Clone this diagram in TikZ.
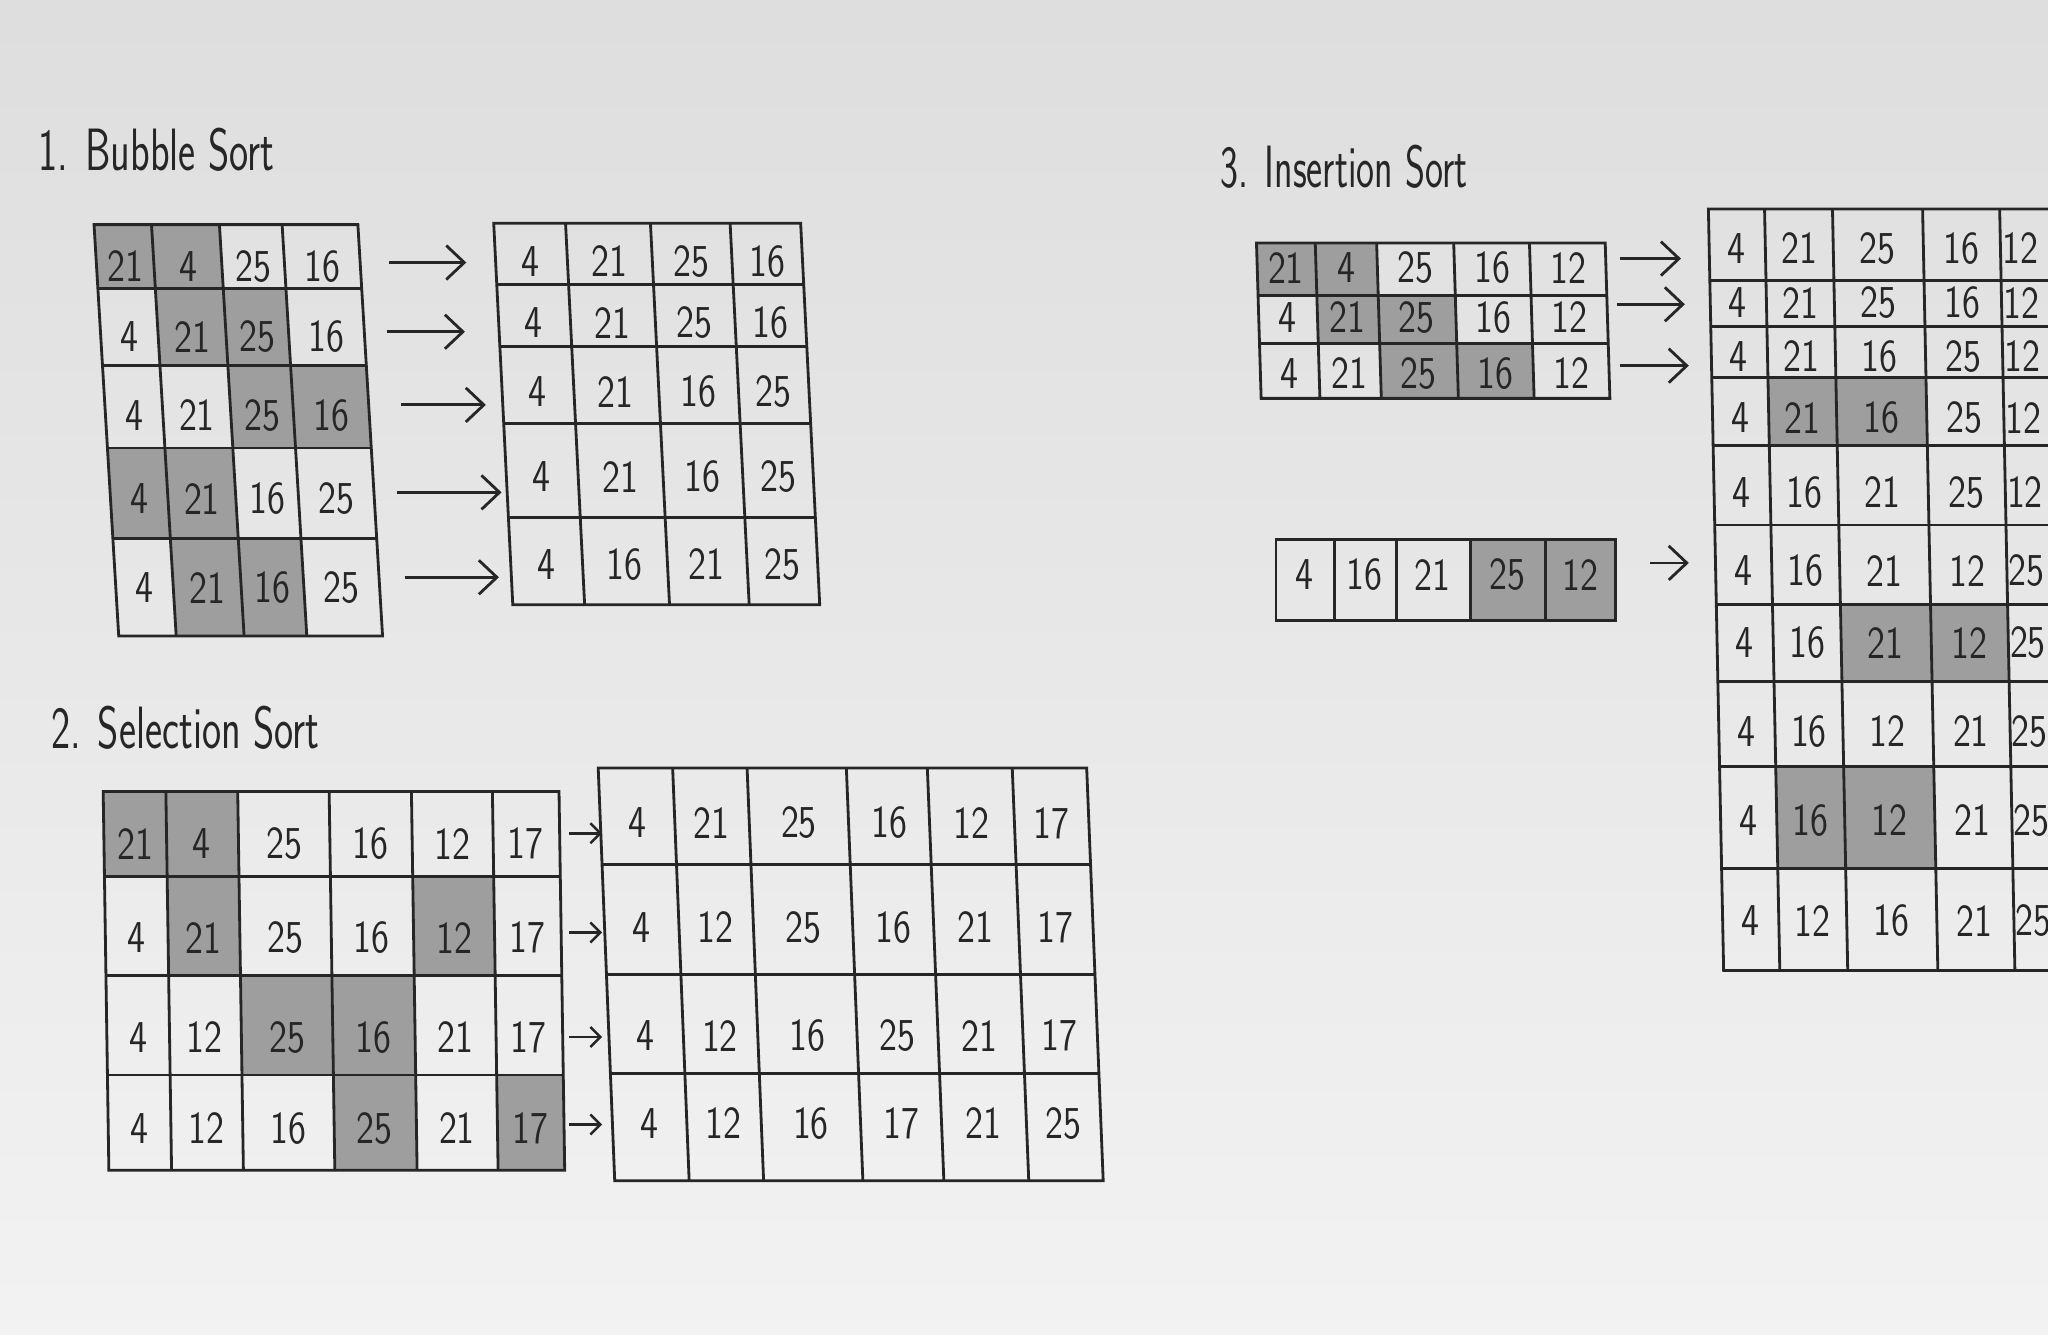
\documentclass[tikz,border=0pt]{standalone}
\usetikzlibrary{arrows.meta}
\begin{document}
\begin{tikzpicture}[x=0.01306cm, y=-0.01306cm,
    >={Straight Barb[length=1.8mm,width=3.4mm]},
    pen/.style={draw=ink, line width=0.8pt},
    flecha/.style={draw=ink, line width=0.8pt, ->},
    flechita/.style={draw=ink, line width=0.7pt, -{Straight Barb[length=1mm,width=2mm]}},
    sombra/.style={fill=lapiz},
    num/.style={text=ink, inner sep=0pt, font=\sffamily\fontsize{13}{13}\selectfont},
    titulo/.style={text=ink, inner sep=0pt, font=\sffamily\fontsize{17}{17}\selectfont}]

    % Colores del papel y del lapiz
    \colorlet{ink}{black!85}
    \colorlet{lapiz}{black!38}
    \colorlet{papel1}{black!13}
    \colorlet{papel2}{black!5}

    % 1. Hoja de papel
    \clip (0,0) rectangle (1568,1022);
    \shade[top color=papel1, bottom color=papel2] (0,0) rectangle (1568,1022);

    % 2. Titulos
    \node[titulo] (t1) at (120,115) {\scalebox{0.68}[1]{1. Bubble Sort}};
    \node[titulo] (t2) at (142,557) {\scalebox{0.68}[1]{2. Selection Sort}};
    \node[titulo] (t3) at (1029,128) {\scalebox{0.64}[1]{3. Insertion Sort}};

    % 3. Bubble Sort: tabla izquierda
    \begin{scope}[shift={(72,172)}, xslant=-0.06]
        \foreach \xa/\ya/\xb/\yb in {0/0/96/49, 44/49/144/108, 96/108/202/171, 0/171/96/240, 44/240/144/315}
            \fill[sombra] (\xa,\ya) rectangle (\xb,\yb);
        \draw[pen] (0,0) rectangle (202,315);
        \foreach \x in {44,96,144} \draw[pen] (\x,0) -- (\x,315);
        \foreach \y in {49,108,171,240} \draw[pen] (0,\y) -- (202,\y);
        \foreach \y/\fila [count=\r] in {32/{21,4,25,16}, 86/{4,21,25,16}, 146/{4,21,25,16}, 210/{4,21,16,25}, 278/{4,21,16,25}}
            \foreach \v [count=\c] in \fila {
                \pgfmathsetmacro\xc{{22,70,120,173}[\c-1]}
                \node[num] (bi-\r-\c) at (\xc,\y) {\scalebox{0.8}[1]{\v}};
            }
    \end{scope}

    % Bubble Sort: tabla derecha
    \begin{scope}[shift={(378,171)}, xslant=-0.05]
        \draw[pen] (0,0) rectangle (235,292);
        \foreach \x in {55,120,181} \draw[pen] (\x,0) -- (\x,292);
        \foreach \y in {47,94,153,225} \draw[pen] (0,\y) -- (235,\y);
        \foreach \y/\fila [count=\r] in {29/{4,21,25,16}, 76/{4,21,25,16}, 129/{4,21,16,25}, 194/{4,21,16,25}, 261/{4,16,21,25}}
            \foreach \v [count=\c] in \fila {
                \pgfmathsetmacro\xc{{27,87,150,208}[\c-1]}
                \node[num] (bd-\r-\c) at (\xc,\y) {\scalebox{0.8}[1]{\v}};
            }
    \end{scope}

    % Flechas Bubble Sort
    \foreach \y/\xa/\xb [count=\i] in {201/298/357, 254/296/356, 310/307/372, 377/304/384, 442/310/382} {
        \coordinate (ba-\i) at (\xa,\y);
        \coordinate (bb-\i) at (\xb,\y);
        \draw[flecha] (ba-\i) -- (bb-\i);
    }

    % 4. Selection Sort: tabla izquierda
    \begin{scope}[shift={(79,606)}, xslant=-0.015]
        \foreach \xa/\ya/\xb/\yb in {0/0/103/65, 48/65/103/141, 236/65/298/141, 103/141/236/217, 173/217/236/290, 298/217/349/290}
            \fill[sombra] (\xa,\ya) rectangle (\xb,\yb);
        \draw[pen] (0,0) rectangle (349,290);
        \foreach \x in {48,103,173,236,298} \draw[pen] (\x,0) -- (\x,290);
        \foreach \y in {65,141,217} \draw[pen] (0,\y) -- (349,\y);
        \foreach \y/\fila [count=\r] in {40/{21,4,25,16,12,17}, 112/{4,21,25,16,12,17}, 188/{4,12,25,16,21,17}, 258/{4,12,16,25,21,17}}
            \foreach \v [count=\c] in \fila {
                \pgfmathsetmacro\xc{{24,75,138,204,267,323}[\c-1]}
                \node[num] (si-\r-\c) at (\xc,\y) {\scalebox{0.8}[1]{\v}};
            }
    \end{scope}

    % Selection Sort: tabla derecha
    \begin{scope}[shift={(458,588)}, xslant=-0.04]
        \draw[pen] (0,0) rectangle (374,316);
        \foreach \x in {57,114,190,252,317} \draw[pen] (\x,0) -- (\x,316);
        \foreach \y in {74,158,234} \draw[pen] (0,\y) -- (374,\y);
        \foreach \y/\fila [count=\r] in {42/{4,21,25,16,12,17}, 122/{4,12,25,16,21,17}, 205/{4,12,16,25,21,17}, 272/{4,12,16,17,21,25}}
            \foreach \v [count=\c] in \fila {
                \pgfmathsetmacro\xc{{28,85,152,221,284,345}[\c-1]}
                \node[num] (sd-\r-\c) at (\xc,\y) {\scalebox{0.8}[1]{\v}};
            }
    \end{scope}

    % Flechas Selection Sort
    \foreach \y [count=\i] in {638,714,794,861} {
        \coordinate (sa-\i) at (436,\y);
        \coordinate (sb-\i) at (461,\y);
        \draw[flechita] (sa-\i) -- (sb-\i);
    }

    % 5. Insertion Sort: tabla de tres filas
    \begin{scope}[shift={(962,186)}, xslant=-0.03]
        \foreach \xa/\ya/\xb/\yb in {0/0/92/40, 45/40/151/77, 92/77/209/119}
            \fill[sombra] (\xa,\ya) rectangle (\xb,\yb);
        \draw[pen] (0,0) rectangle (267,119);
        \foreach \x in {45,92,151,209} \draw[pen] (\x,0) -- (\x,119);
        \foreach \y in {40,77} \draw[pen] (0,\y) -- (267,\y);
        \foreach \y/\fila [count=\r] in {19/{21,4,25,16,12}, 57/{4,21,25,16,12}, 100/{4,21,25,16,12}}
            \foreach \v [count=\c] in \fila {
                \pgfmathsetmacro\xc{{22,68,121,180,238}[\c-1]}
                \node[num] (ia-\r-\c) at (\xc,\y) {\scalebox{0.8}[1]{\v}};
            }
    \end{scope}

    % Insertion Sort: fila suelta
    \begin{scope}[shift={(977,413)}]
        \fill[sombra] (149,0) rectangle (260,62);
        \draw[pen] (0,0) rectangle (260,62);
        \foreach \x in {45,92,149,206} \draw[pen] (\x,0) -- (\x,62);
        \foreach \v [count=\c] in {4,16,21,25,12} {
            \pgfmathsetmacro\xc{{22,68,120,177,233}[\c-1]}
            \node[num] (ib-\c) at (\xc,27) {\scalebox{0.8}[1]{\v}};
        }
    \end{scope}

    % Insertion Sort: tabla grande (cortada por el borde)
    \begin{scope}[shift={(1308,160)}, xslant=-0.02]
        \foreach \xa/\ya/\xb/\yb in {43/129/164/181, 95/303/223/362, 43/427/164/505}
            \fill[sombra] (\xa,\ya) rectangle (\xb,\yb);
        \draw[pen] (0,0) rectangle (268,583);
        \foreach \x in {43,95,164,223} \draw[pen] (\x,0) -- (\x,583);
        \foreach \y in {55,90,129,181,242,303,362,427,505} \draw[pen] (0,\y) -- (268,\y);
        \foreach \y/\fila [count=\r] in {30/{4,21,25,16,12}, 72/{4,21,25,16,12}, 113/{4,21,16,25,12},
                160/{4,21,16,25,12}, 217/{4,16,21,25,12}, 277/{4,16,21,12,25}, 332/{4,16,21,12,25},
                400/{4,16,12,21,25}, 468/{4,16,12,21,25}, 545/{4,12,16,21,25}}
            \foreach \v [count=\c] in \fila {
                \pgfmathsetmacro\xc{{21,69,129,193,238}[\c-1]}
                \node[num] (ic-\r-\c) at (\xc,\y) {\scalebox{0.8}[1]{\v}};
            }
    \end{scope}

    % Flechas Insertion Sort
    \foreach \y/\xa/\xb [count=\i] in {198/1240/1287, 233/1238/1290, 280/1240/1293, 431/1263/1293} {
        \coordinate (ja-\i) at (\xa,\y);
        \coordinate (jb-\i) at (\xb,\y);
        \draw[flecha] (ja-\i) -- (jb-\i);
    }

\end{tikzpicture}
\end{document}
